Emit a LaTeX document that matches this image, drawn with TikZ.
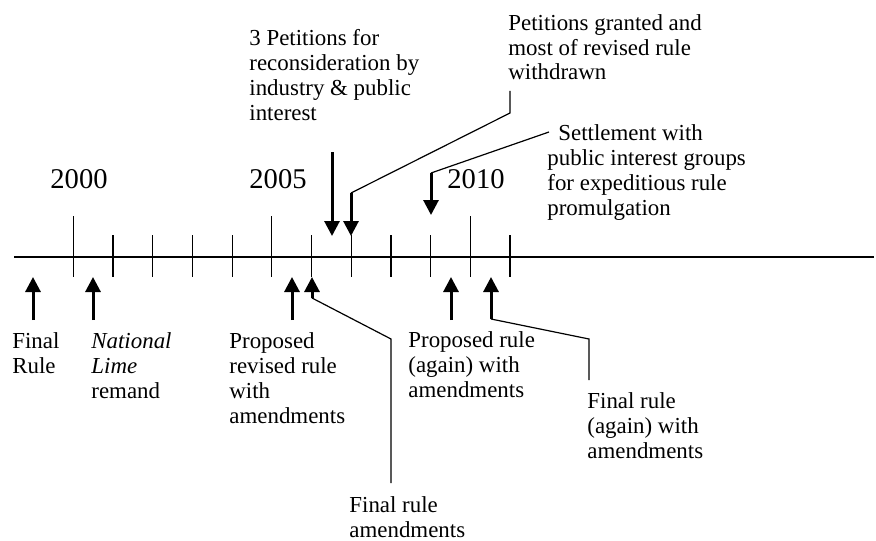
\documentclass[tikz,border=0pt]{standalone}
\usepackage{fontspec}
\setmainfont{Liberation Serif}
\usetikzlibrary{arrows.meta}
\tikzset{
  note/.style={inner sep=0, anchor=base west, align=left, font=\fontsize{11.45}{12.4}\selectfont},
  year/.style={inner sep=0, anchor=base west, font=\fontsize{14.3}{16}\selectfont},
  event/.style={line width=1.5pt, -{Triangle[length=7.5pt,width=7.5pt]}},
  leader/.style={line width=0.6pt},
}
\begin{document}
\begin{tikzpicture}[x=0.5pt,y=-0.5pt]
\useasboundingbox (0,0) rectangle (876,540);
% time axis
\coordinate (start) at (14,257);
\coordinate (end) at (874,257);
\draw[line width=0.75pt] (start) -- (end);
\foreach \k in {0,...,11}{
  \coordinate (t\k) at (73.3+39.7*\k,257);
  \draw[line width=0.6pt] (t\k) ++(0,-22) -- ++(0,42);
}
\foreach \k in {0,5,10}
  \draw[line width=0.6pt] (t\k) ++(0,-41) -- ++(0,20);
\node[year] (y2000) at (50,188) {2000};
\node[year] (y2005) at (249,188) {2005};
\node[year] (y2010) at (447,188) {2010};

% events below the axis (base = last line)
\node[note] (fr) at (12,373) {Final\\Rule};
\node[note] (nl) at (91,398) {\textit{National}\\\textit{Lime}\\remand};
\node[note] (prr) at (229,423) {Proposed\\revised rule\\with\\amendments};
\node[note] (fra) at (349,537) {Final rule\\amendments};
\node[note] (pra) at (408,397) {Proposed rule\\(again) with\\amendments};
\node[note] (fa) at (587,458) {Final rule\\(again) with\\amendments};

\coordinate (frtail) at (33,320);   \coordinate (frtip) at (33,277);
\coordinate (nltail) at (93,320);   \coordinate (nltip) at (93,277);
\coordinate (prrtail) at (292,320); \coordinate (prrtip) at (292,277);
\coordinate (fratail) at (312,298); \coordinate (fratip) at (312,277);
\coordinate (frabend) at (391,339); \coordinate (fraend) at (391,483);
\coordinate (pratail) at (451,320); \coordinate (pratip) at (451,277);
\coordinate (fatail) at (491,319);  \coordinate (fatip) at (491,277);
\coordinate (fabend) at (589,339);  \coordinate (faend) at (589,380);

\draw[event] (frtail) -- (frtip);
\draw[event] (nltail) -- (nltip);
\draw[event] (prrtail) -- (prrtip);
\draw[event] (fratail) -- (fratip);
\draw[leader] (fratail) -- (frabend) -- (fraend);
\draw[event] (pratail) -- (pratip);
\draw[event] (fatail) -- (fatip);
\draw[leader] (fatail) -- (fabend) -- (faend);

% events above the axis
\node[note] (pet) at (249,120) {3 Petitions for\\reconsideration by\\industry \& public\\interest};
\node[note] (grant) at (508,80) {Petitions granted and\\most of revised rule\\withdrawn};
\node[note] (settle) at (547,215) {\hspace*{5.5pt}Settlement with\\public interest groups\\for expeditious rule\\promulgation};

\coordinate (pettail) at (332,152);    \coordinate (pettip) at (332,236);
\coordinate (grantend) at (510,91);    \coordinate (grantknee) at (510,113);
\coordinate (granttail) at (351,193);  \coordinate (granttip) at (351,236);
\coordinate (settleend) at (549,132);
\coordinate (settletail) at (431,173); \coordinate (settletip) at (431,215);

\draw[event] (pettail) -- (pettip);
\draw[leader] (grantend) -- (grantknee) -- (granttail);
\draw[event] (granttail) -- (granttip);
\draw[leader] (settleend) -- (settletail);
\draw[event] (settletail) -- (settletip);
\end{tikzpicture}
\end{document}
